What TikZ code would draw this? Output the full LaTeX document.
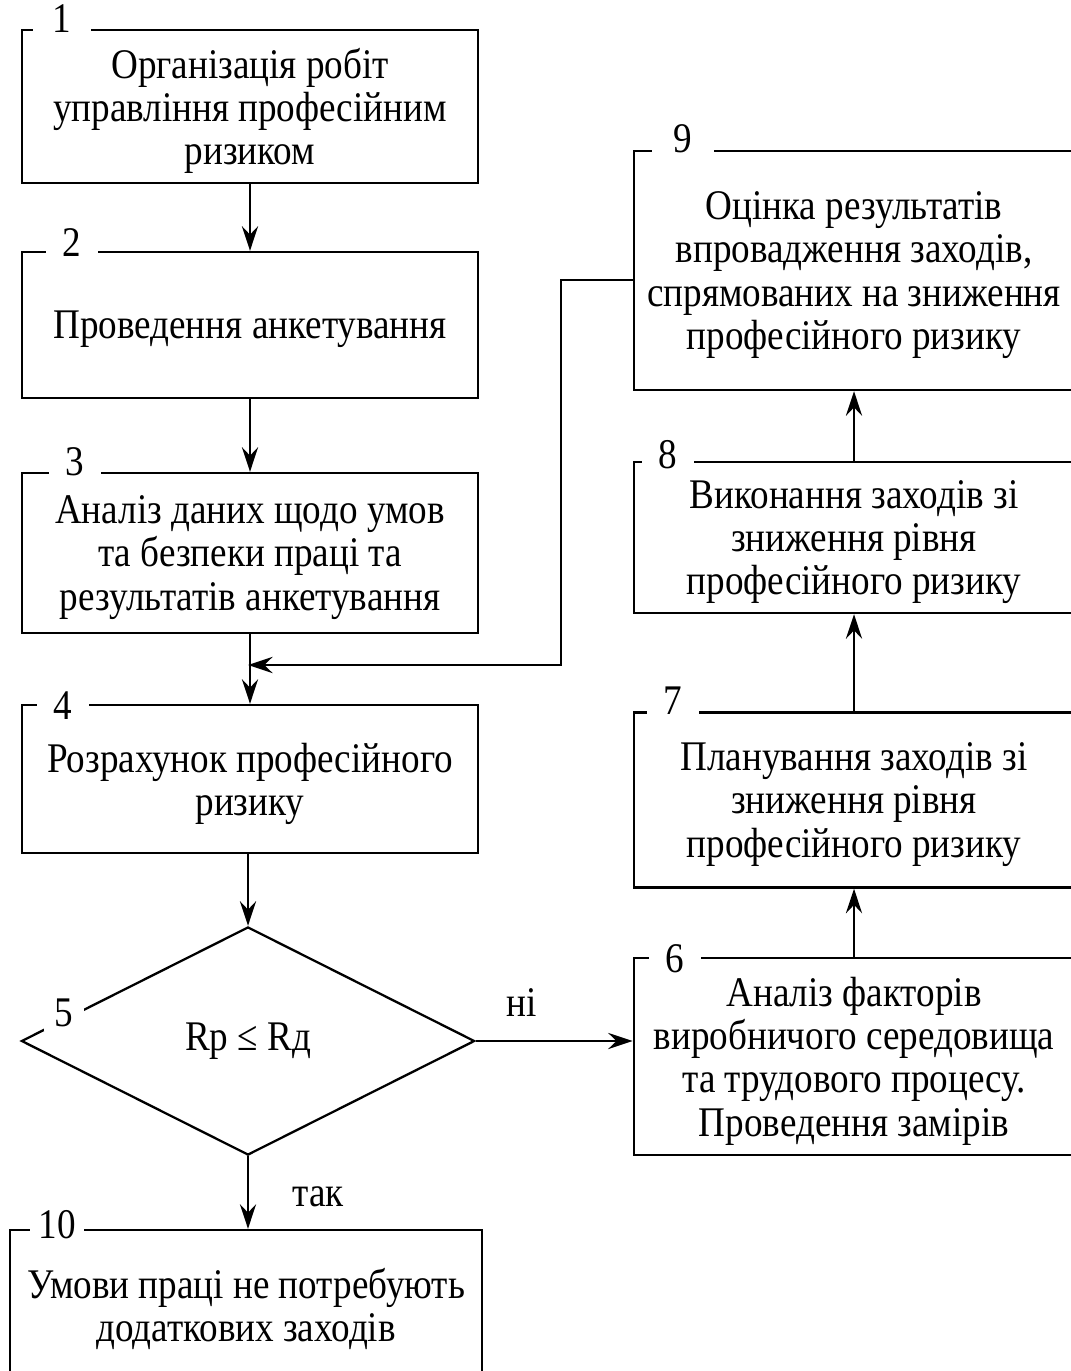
\documentclass[tikz,border=0pt]{standalone}
\usepackage{fontspec}
\setmainfont[FakeStretch=0.88]{Liberation Serif}
\usetikzlibrary{shapes.geometric}
\usetikzlibrary{arrows.meta}

\begin{document}
\begin{tikzpicture}[x=0.01cm,y=-0.01cm,
    font=\fontsize{12}{12.3}\selectfont,
    ramka/.style={draw,line width=0.65pt,align=center,inner sep=0pt},
    blok/.style={ramka,text depth=-2.6pt},
    nomer/.style={fill=white,anchor=base,inner xsep=4.8pt,inner ysep=1pt},
    strelka/.style={line width=0.65pt,-{Stealth[length=7pt,width=4.6pt,inset=2.4pt]}}]
  \clip (0,0) rectangle (1071,1371);
  % left column
  \node[blok,minimum width=4.56cm,minimum height=1.53cm] (b1) at (250,106.5)
    {Організація робіт\\управління професійним\\ризиком};
  \node[blok,minimum width=4.56cm,minimum height=1.46cm] (b2) at (250,325)
    {Проведення анкетування};
  \node[blok,minimum width=4.56cm,minimum height=1.60cm] (b3) at (250,553)
    {Аналіз даних щодо умов\\та безпеки праці та\\результатів анкетування};
  \node[blok,minimum width=4.56cm,minimum height=1.48cm] (b4) at (250,779)
    {Розрахунок професійного\\ризику};
  \node[ramka,shape=diamond,minimum width=4.53cm,minimum height=2.28cm] (b5) at (248,1041)
    {Rp ≤ Rд};
  \node[blok,minimum width=4.72cm,minimum height=1.50cm] (b10) at (246,1305)
    {Умови праці не потребують\\додаткових заходів};
  % right column
  \node[blok,minimum width=4.40cm,minimum height=1.97cm] (b6) at (854,1056.5)
    {Аналіз факторів\\виробничого середовища\\та трудового процесу.\\Проведення замірів};
  \node[blok,minimum width=4.40cm,minimum height=1.75cm] (b7) at (854,800)
    {Планування заходів зі\\зниження рівня\\професійного ризику};
  \node[blok,minimum width=4.40cm,minimum height=1.51cm] (b8) at (854,537.5)
    {Виконання заходів зі\\зниження рівня\\професійного ризику};
  \node[blok,minimum width=4.40cm,minimum height=2.39cm] (b9) at (854,270.5)
    {Оцінка результатів\\впровадження заходів,\\спрямованих на зниження\\професійного ризику};
  % numbers
  \node[nomer,inner xsep=5.5pt] at (62,33) {1};
  \node[nomer] at (72,257) {2};
  \node[nomer] at (75,476) {3};
  \node[nomer] at (63,719) {4};
  \node[fill=white,inner xsep=3pt,inner ysep=1pt] at (64,1013) {5};
  \node[nomer] at (675,972) {6};
  \node[nomer] at (673,714) {7};
  \node[nomer] at (668,469) {8};
  \node[nomer,inner xsep=6.2pt] at (683,153) {9};
  \node[nomer,inner xsep=2.5pt] at (57,1238) {10};
  % arrows
  \draw[strelka] (b1) -- (b2);
  \draw[strelka] (b2) -- (b3);
  \draw[strelka] (b3.south -| b4) -- (b4);
  \draw[strelka] (b4.south -| b5) -- (b5);
  \draw[strelka] (b5.east) -- node[xshift=-0.33cm,yshift=0.38cm] {ні} (b5.east -| b6.west);
  \draw[strelka] (b5.south) -- node[xshift=0.70cm,yshift=-0.04cm] {так} (b10.north -| b5);
  \draw[strelka] (b6) -- (b7);
  \draw[strelka] (b7) -- (b8);
  \draw[strelka] (b8) -- (b9);
  \coordinate (zv) at (561,280);
  \coordinate (vh) at (248,665);
  \draw[strelka] (b9.west |- zv) -- (zv) |- (vh);
\end{tikzpicture}
\end{document}
